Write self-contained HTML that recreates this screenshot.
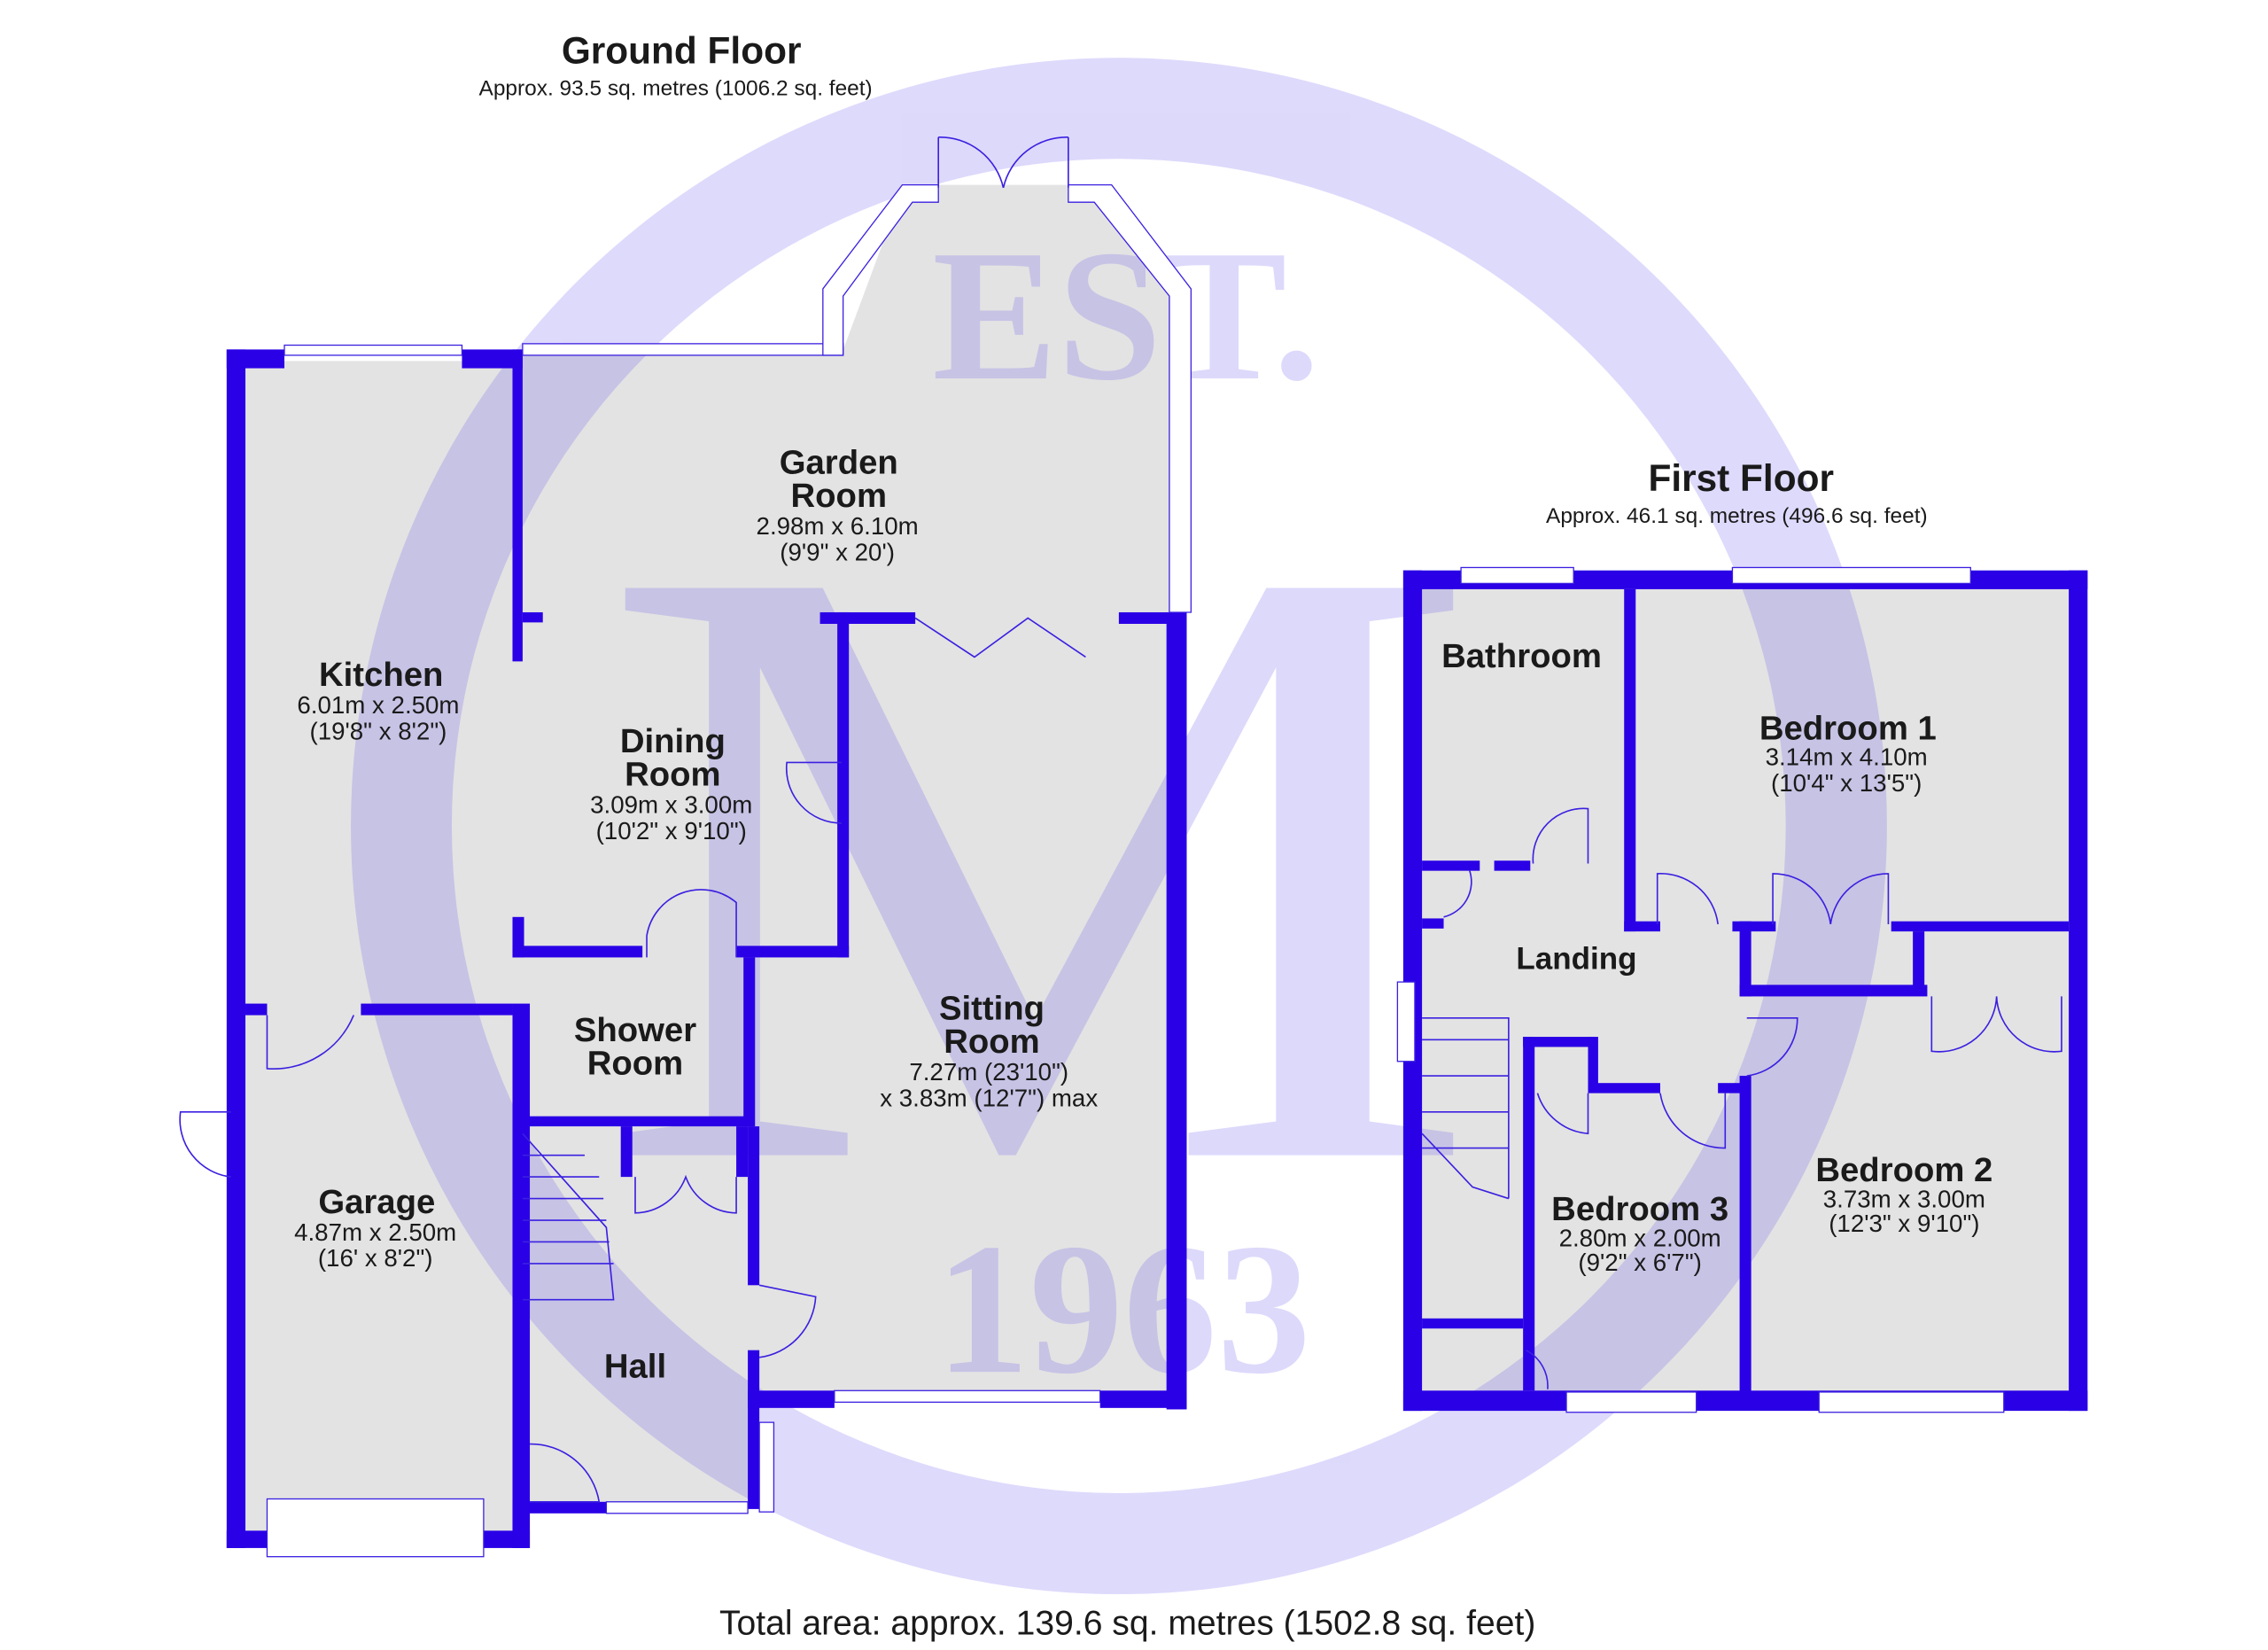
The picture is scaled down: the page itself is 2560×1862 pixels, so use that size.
<!DOCTYPE html>
<html><head><style>html,body{margin:0;padding:0;background:#fff}svg{display:block}</style></head>
<body>
<svg width="2560" height="1862" viewBox="0 0 1571 1142.6" xmlns="http://www.w3.org/2000/svg" font-family="Liberation Sans, Arial, sans-serif">
<rect width="1571" height="1143" fill="#fff"/>
<g fill="#e3e3e3">
<polygon points="165,250 360,250 360,245 583,245 625,132 650,132 650,128 740,128 740,132 768,132 815,205 815,970 525,970 525,1040 362,1040 362,1066 165,1066"/>
<rect x="978" y="402" width="462" height="568"/>
</g>
<g fill="#5b48f0" opacity="0.2">
<path fill-rule="evenodd" d="M775,40 a532,532 0 1,0 0.1,0 Z M775,110 a462,462 0 1,1 -0.1,0 Z"/>
<text x="780" y="262" font-family="Liberation Serif, serif" font-weight="bold" font-size="130" text-anchor="middle">EST.</text>
<text x="778" y="950" font-family="Liberation Serif, serif" font-weight="bold" font-size="130" text-anchor="middle">1963</text>
<text x="720" y="800" font-family="Liberation Serif, serif" font-size="600" text-anchor="middle" transform="translate(720,0) scale(1.15,1) translate(-720,0)">M</text>
</g>
<g fill="#2a00e6">
<rect x="157" y="242" width="13" height="830"/>
<rect x="157" y="242" width="40" height="13"/>
<rect x="320" y="242" width="42" height="13"/>
<rect x="355" y="242" width="7" height="216"/>
<rect x="362" y="424" width="14" height="7"/>
<rect x="157" y="1060" width="28" height="12"/>
<rect x="335" y="1060" width="32" height="12"/>
<rect x="355" y="695" width="12" height="377"/>
<rect x="170" y="695" width="15" height="8"/>
<rect x="250" y="695" width="105" height="8"/>
<rect x="808" y="424" width="14" height="552"/>
<rect x="775" y="424" width="40" height="8"/>
<rect x="568" y="424" width="66" height="8"/>
<rect x="580" y="424" width="8" height="239"/>
<rect x="355" y="635" width="8" height="28"/>
<rect x="355" y="655" width="90" height="8"/>
<rect x="510" y="655" width="78" height="8"/>
<rect x="515" y="663" width="8" height="117"/>
<rect x="360" y="773" width="162" height="7"/>
<rect x="518" y="780" width="8" height="110"/>
<rect x="518" y="935" width="8" height="110"/>
<rect x="518" y="963" width="60" height="12"/>
<rect x="762" y="963" width="60" height="12"/>
<rect x="430" y="780" width="8" height="35"/>
<rect x="510" y="780" width="8" height="35"/>
<rect x="360" y="1040" width="60" height="8"/>
<rect x="355" y="1040" width="12" height="32"/>
</g>
<g fill="#fff" stroke="#3a20e0" stroke-width="0.8">
<rect x="197" y="239" width="123" height="7"/>
<rect x="362" y="238" width="222" height="8"/>
<polygon points="570,200 625,128 650,128 650,140 632,140 584,205 584,246 570,246"/>
<polygon points="740,128 770,128 825,200 825,424 810,424 810,205 758,140 740,140"/>
<rect x="578" y="963" width="184" height="8"/>
<rect x="185" y="1038" width="150" height="40"/>
<rect x="420" y="1040" width="98" height="8"/>
<rect x="526" y="985" width="10" height="62"/>
</g>
<g fill="none" stroke="#3a20e0" stroke-width="1">
<path d="M650,95 L650,130 M650,95 A45,45 0 0,1 695,130 M740,95 L740,130 M740,95 A45,45 0 0,0 695,130"/>
<path d="M634,428 L675,455 L712,428 L752,455"/>
<path d="M583,528 L545,528 A38,38 0 0,0 583,570"/>
<path d="M448,663 L448,648 A38,38 0 0,1 510,625 L510,663"/>
<path d="M185,703 L185,740 A60,60 0 0,0 245,703"/>
<path d="M160,770 L125,770 A40,40 0 0,0 160,815"/>
<path d="M526,890 L565,898 A45,45 0 0,1 526,940"/>
<path d="M440,815 L440,840 A38,38 0 0,0 475,815 A38,38 0 0,0 510,840 L510,815"/>
<path d="M367,1000 A48,48 0 0,1 415,1040 L367,1040"/>
<path d="M362,785 L420,850 L425,900 L362,900 M362,800 L405,800 M362,815 L415,815 M362,830 L418,830 M362,845 L420,845 M362,860 L422,860 M362,875 L425,875"/>
</g>
<g fill="#2a00e6">
<rect x="972" y="395" width="474" height="13"/>
<rect x="972" y="395" width="13" height="582"/>
<rect x="1433" y="395" width="13" height="582"/>
<rect x="972" y="963" width="474" height="14"/>
<rect x="1125" y="408" width="8" height="237"/>
<rect x="985" y="596" width="40" height="7"/>
<rect x="1035" y="596" width="25" height="7"/>
<rect x="985" y="636" width="15" height="7"/>
<rect x="1125" y="638" width="25" height="7"/>
<rect x="1200" y="638" width="30" height="7"/>
<rect x="1310" y="638" width="123" height="7"/>
<rect x="1205" y="638" width="8" height="52"/>
<rect x="1205" y="682" width="130" height="8"/>
<rect x="1325" y="645" width="8" height="40"/>
<rect x="1205" y="745" width="8" height="225"/>
<rect x="1055" y="718" width="8" height="245"/>
<rect x="1055" y="718" width="50" height="7"/>
<rect x="1100" y="718" width="7" height="37"/>
<rect x="1100" y="750" width="50" height="7"/>
<rect x="1190" y="750" width="20" height="7"/>
<rect x="985" y="913" width="70" height="7"/>
</g>
<g fill="#fff" stroke="#3a20e0" stroke-width="0.8">
<rect x="1012" y="393" width="78" height="11"/>
<rect x="1200" y="393" width="165" height="11"/>
<rect x="1085" y="964" width="90" height="14"/>
<rect x="1260" y="964" width="128" height="14"/>
<rect x="968" y="680" width="12" height="55"/>
</g>
<g fill="none" stroke="#3a20e0" stroke-width="1">
<path d="M1062,598 A35,35 0 0,1 1100,560 L1100,598"/>
<path d="M1018,603 A25,25 0 0,1 1000,635"/>
<path d="M1148,640 L1148,605 A40,40 0 0,1 1190,640"/>
<path d="M1228,640 L1228,605 A40,40 0 0,1 1268,640 A40,40 0 0,1 1308,605 L1308,640"/>
<path d="M1210,745 A40,40 0 0,0 1245,705 L1210,705"/>
<path d="M1150,757 A45,45 0 0,0 1195,795 L1195,757"/>
<path d="M1065,757 A40,40 0 0,0 1100,785 L1100,757"/>
<path d="M1338,690 L1338,728 A40,40 0 0,0 1383,690 A40,40 0 0,0 1428,728 L1428,690"/>
<path d="M1057,935 A28,28 0 0,1 1072,962"/>
<path d="M985,705 L1045,705 L1045,830 M985,720 L1045,720 M985,745 L1045,745 M985,770 L1045,770 M985,795 L1045,795 L1045,830 M985,785 L1020,822 L1045,830"/>
</g>
<g fill="#1a1a1a" text-anchor="middle">
<text x="472" y="44" font-size="26" font-weight="bold">Ground Floor</text>
<text x="468" y="66" font-size="15">Approx. 93.5 sq. metres (1006.2 sq. feet)</text>
<text x="1206" y="340" font-size="26" font-weight="bold">First Floor</text>
<text x="1203" y="362" font-size="15">Approx. 46.1 sq. metres (496.6 sq. feet)</text>
<text x="581" y="328" font-size="23.5" font-weight="bold">Garden</text>
<text x="581" y="351" font-size="23.5" font-weight="bold">Room</text>
<text x="580" y="370" font-size="17">2.98m x 6.10m</text>
<text x="580" y="388" font-size="17">(9'9" x 20')</text>
<text x="264" y="475" font-size="23.5" font-weight="bold">Kitchen</text>
<text x="262" y="494" font-size="17">6.01m x 2.50m</text>
<text x="262" y="512" font-size="17">(19'8" x 8'2")</text>
<text x="466" y="521" font-size="23.5" font-weight="bold">Dining</text>
<text x="466" y="544" font-size="23.5" font-weight="bold">Room</text>
<text x="465" y="563" font-size="17">3.09m x 3.00m</text>
<text x="465" y="581" font-size="17">(10'2" x 9'10")</text>
<text x="440" y="721" font-size="23.5" font-weight="bold">Shower</text>
<text x="440" y="744" font-size="23.5" font-weight="bold">Room</text>
<text x="687" y="706" font-size="23.5" font-weight="bold">Sitting</text>
<text x="687" y="729" font-size="23.5" font-weight="bold">Room</text>
<text x="685" y="748" font-size="17">7.27m (23'10")</text>
<text x="685" y="766" font-size="17">x 3.83m (12'7") max</text>
<text x="261" y="840" font-size="23.5" font-weight="bold">Garage</text>
<text x="260" y="859" font-size="17">4.87m x 2.50m</text>
<text x="260" y="877" font-size="17">(16' x 8'2")</text>
<text x="440" y="954" font-size="23.5" font-weight="bold">Hall</text>
<text x="1054" y="462" font-size="23.5" font-weight="bold">Bathroom</text>
<text x="1280" y="512" font-size="23.5" font-weight="bold">Bedroom 1</text>
<text x="1279" y="530" font-size="17">3.14m x 4.10m</text>
<text x="1279" y="548" font-size="17">(10'4" x 13'5")</text>
<text x="1092" y="671" font-size="21.5" font-weight="bold">Landing</text>
<text x="1319" y="818" font-size="23.5" font-weight="bold">Bedroom 2</text>
<text x="1319" y="836" font-size="17">3.73m x 3.00m</text>
<text x="1319" y="853" font-size="17">(12'3" x 9'10")</text>
<text x="1136" y="845" font-size="23.5" font-weight="bold">Bedroom 3</text>
<text x="1136" y="863" font-size="17">2.80m x 2.00m</text>
<text x="1136" y="880" font-size="17">(9'2" x 6'7")</text>
<text x="781" y="1132" font-size="24">Total area: approx. 139.6 sq. metres (1502.8 sq. feet)</text>
</g>
</svg>
</body></html>
